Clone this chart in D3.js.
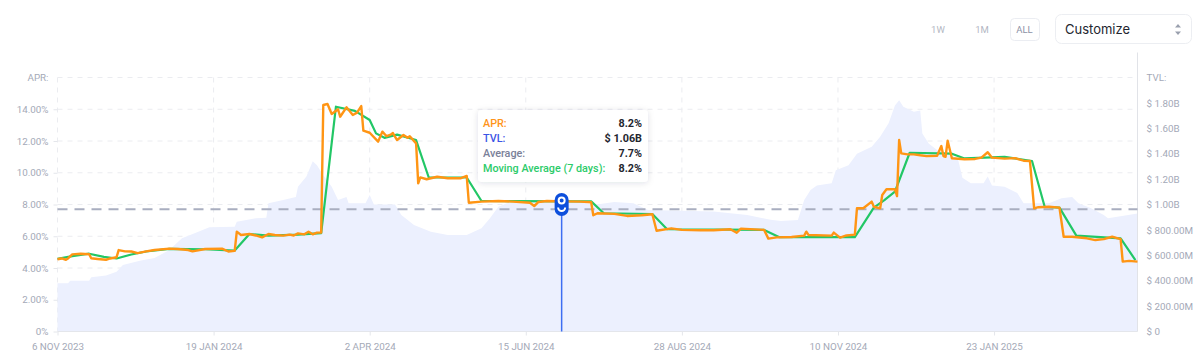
<!DOCTYPE html>
<html>
<head>
<meta charset="utf-8">
<script src="https://cdn.jsdelivr.net/npm/d3@7"></script>
<style>
  html, body { margin: 0; padding: 0; background: #ffffff; }
  svg { display: block; font-family: Roboto, "Liberation Sans", sans-serif; }
</style>
</head>
<body>
<svg id="chart" width="1201" height="361"></svg>
<script>
// ---- Data (days counted from 6 Nov 2023) ----
const startDate = "2023-11-06";
const endDate = "2025-04-01";

const aprDays = [0,2,4,5,7,11,15,16,19,23,25,28,29,32,35,38,42,46,53,57,62,64,70,78,81,84,85,87,91,94,97,100,103,107,110,112,114,117,119,121,123,125,126,128,130,133,134,137,140,142,144,145,148,152,154,156,158,159,161,164,166,167,170,171,172,175,180,185,191,194,195,201,209,216,224,226,228,232,240,248,253,254,256,264,270,277,282,284,291,296,305,311,319,322,324,335,337,341,348,354,355,356,367,368,371,374,378,379,382,386,387,390,391,393,397,398,399,400,403,406,409,412,417,419,420,421,422,424,430,435,438,441,443,449,454,458,461,463,465,470,475,477,481,488,492,496,500,504,505,508,512];
const aprValues = [4.55,4.6,4.52,4.6,4.86,4.9,4.87,4.61,4.57,4.52,4.6,4.68,5.13,5.05,5.04,4.94,5.05,5.13,5.22,5.2,5.13,5.05,5.2,5.22,5.04,5.08,6.29,6.08,6.14,6.05,5.93,6.14,6.08,6.04,6.1,6.05,6.18,6.12,6.29,6.12,6.23,6.23,14.27,14.33,13.7,14.0,13.53,14.12,13.64,13.79,14.2,12.65,12.52,11.96,12.59,12.3,12.4,12.5,12.06,12.38,12.2,12.3,11.85,9.33,9.71,9.59,9.75,9.65,9.65,9.8,8.11,8.18,8.22,8.18,8.11,7.9,8.16,8.22,8.2,8.18,8.14,7.32,7.45,7.41,7.28,7.32,7.39,6.35,6.5,6.4,6.38,6.38,6.44,6.22,6.48,6.4,5.85,5.93,5.95,6.04,6.29,6.08,6.04,6.23,5.91,6.05,6.1,7.76,7.76,8.18,7.86,7.76,8.6,8.96,8.96,8.53,12.06,11.22,11.16,11.16,11.1,11.05,11.07,11.68,11.05,11.0,12.02,10.91,10.85,10.87,10.95,11.29,10.95,10.89,10.92,10.76,10.74,7.76,7.83,7.86,7.8,5.97,5.97,5.87,5.76,5.82,5.97,5.82,4.4,4.45,4.4];

const maDays = [0,7,15,22,28,35,42,53,70,84,91,100,114,125,132,141,148,151,155,161,170,176,194,201,253,259,282,289,335,342,378,387,392,397,404,424,430,449,462,468,475,483,504,511];
const maValues = [4.57,4.75,4.9,4.7,4.6,4.85,5.04,5.2,5.18,5.1,6.14,6.04,6.1,6.2,14.16,13.9,13.32,12.48,12.2,12.4,12.06,9.7,9.7,8.22,8.2,7.45,7.4,6.44,6.4,5.95,5.95,7.8,8.28,8.81,11.26,11.2,10.9,11.0,10.74,7.86,7.8,6.04,5.87,4.5];

// TVL in millions of dollars
const tvlDays = [0,5,6,15,16,23,28,31,39,46,53,59,65,72,84,85,94,99,100,107,113,114,118,121,123,126,130,133,137,138,146,148,150,153,160,163,169,177,185,194,201,205,209,213,223,248,254,264,273,280,296,311,327,338,343,351,354,357,360,367,369,375,379,386,390,394,397,399,401,406,409,410,413,417,424,427,429,433,439,441,443,449,455,458,470,476,481,484,490,496,498,512];
const tvlValues = [380,380,400,400,427,440,471,524,557,578,642,734,773,820,825,865,891,895,1010,1035,1060,1140,1220,1340,1310,1230,1140,1035,1060,1010,1010,1075,1000,1000,1000,917,839,786,760,760,813,891,983,1010,1020,1020,996,1020,1010,957,950,945,917,880,870,878,1035,1114,1150,1167,1270,1310,1400,1455,1534,1640,1780,1820,1770,1730,1740,1560,1480,1430,1390,1350,1210,1167,1167,1220,1150,1140,1090,1010,1010,1050,1060,1010,970,917,891,930];

const averageApr = 7.7;

const aprTicks = [0,2,4,6,8,10,12,14];
const aprTickLabels = ["0%","2.00%","4.00%","6.00%","8.00%","10.00%","12.00%","14.00%"];
const tvlTicks = [0,200,400,600,800,1000,1200,1400,1600,1800];
const tvlTickLabels = ["$ 0","$ 200.00M","$ 400.00M","$ 600.00M","$ 800.00M","$ 1.00B","$ 1.20B","$ 1.40B","$ 1.60B","$ 1.80B"];
const xTickDates = ["2023-11-06","2024-01-19","2024-04-02","2024-06-15","2024-08-28","2024-11-10","2025-01-23"];
const xTickLabels = ["6 NOV 2023","19 JAN 2024","2 APR 2024","15 JUN 2024","28 AUG 2024","10 NOV 2024","23 JAN 2025"];

const tooltipDate = "2024-07-02";
const tooltipRows = [
  {label: "APR:", value: "8.2%", color: "#ff9419"},
  {label: "TVL:", value: "$ 1.06B", color: "#3b55e6"},
  {label: "Average:", value: "7.7%", color: "#7a8199"},
  {label: "Moving Average (7 days):", value: "8.2%", color: "#2ccb6a"}
];
const rangeButtons = ["1W","1M","ALL"];

// ---- Drawing ----
const parse = d3.utcParse("%Y-%m-%d");
const t0 = parse(startDate);
const dayDate = d => d3.utcDay.offset(t0, d);

const svg = d3.select("#chart");
const L = 57.5, R = 1137.5, T = 77.5, B = 331.5;
const axisFont = 9.8, axisColor = "#a4a9b7";

const x = d3.scaleUtc().domain([t0, parse(endDate)]).range([L, R]);
const yL = d3.scaleLinear().domain([0, 16]).range([B, T]);
const yR = d3.scaleLinear().domain([0, 2000]).range([B, T]);

const defs = svg.append("defs");
const f = defs.append("filter").attr("id", "shadow").attr("x", "-20%").attr("y", "-30%").attr("width", "140%").attr("height", "160%");
f.append("feDropShadow").attr("dx", 0).attr("dy", 1).attr("stdDeviation", 3).attr("flood-color", "#1a2040").attr("flood-opacity", 0.13);

// gridlines
const grid = svg.append("g");
grid.selectAll("line.h").data(aprTicks.concat([16]).filter(v => v > 0)).join("line")
  .attr("x1", L).attr("x2", R).attr("y1", d => yL(d)).attr("y2", d => yL(d))
  .attr("stroke", "#ebecf0").attr("stroke-dasharray", "5,5");
grid.selectAll("line.v").data(xTickDates).join("line")
  .attr("x1", d => x(parse(d))).attr("x2", d => x(parse(d))).attr("y1", T).attr("y2", B)
  .attr("stroke", "#ebecf0").attr("stroke-dasharray", "5,5");

// TVL area
const tvlData = tvlDays.map((d, i) => ({date: dayDate(d), v: tvlValues[i]}));
svg.append("path").datum(tvlData)
  .attr("d", d3.area().x(d => x(d.date)).y0(B).y1(d => yR(d.v)))
  .attr("fill", "#ecf0fe");

// baseline and right axis line
svg.append("line").attr("x1", L).attr("x2", R).attr("y1", B).attr("y2", B).attr("stroke", "#e4e6eb");
svg.append("line").attr("x1", R).attr("x2", R).attr("y1", T - 25).attr("y2", B).attr("stroke", "#e1e3e8");

// average line
svg.append("line").attr("x1", L).attr("x2", R).attr("y1", yL(averageApr)).attr("y2", yL(averageApr))
  .attr("stroke", "#a9aec0").attr("stroke-width", 2).attr("stroke-dasharray", "10,7");

// Moving average
const maData = maDays.map((d, i) => ({date: dayDate(d), v: maValues[i]}));
svg.append("path").datum(maData)
  .attr("d", d3.line().x(d => x(d.date)).y(d => yL(d.v)))
  .attr("fill", "none").attr("stroke", "#22c766").attr("stroke-width", 2.2).attr("stroke-linejoin", "round");

// APR
const aprData = aprDays.map((d, i) => ({date: dayDate(d), v: aprValues[i]}));
svg.append("path").datum(aprData)
  .attr("d", d3.line().x(d => x(d.date)).y(d => yL(d.v)))
  .attr("fill", "none").attr("stroke", "#ff9514").attr("stroke-width", 2.4).attr("stroke-linejoin", "round");

// Left axis
const leftAxis = svg.append("g").attr("transform", `translate(${L},0)`)
  .call(d3.axisLeft(yL).tickValues(aprTicks).tickFormat((d, i) => aprTickLabels[i]).tickSize(4).tickPadding(5));
leftAxis.select(".domain").remove();
leftAxis.selectAll("line").attr("stroke", "#e4e6eb");
leftAxis.selectAll("text").attr("fill", axisColor).attr("font-size", axisFont).attr("font-family", "Roboto, sans-serif");
svg.append("text").attr("x", L - 9).attr("y", T).attr("dy", "0.32em").attr("text-anchor", "end")
  .attr("fill", axisColor).attr("font-size", axisFont).text("APR:");

// Right axis
const rightAxis = svg.append("g").attr("transform", `translate(${R},0)`)
  .call(d3.axisRight(yR).tickValues(tvlTicks).tickFormat((d, i) => tvlTickLabels[i]).tickSize(0).tickPadding(9));
rightAxis.select(".domain").remove();
rightAxis.selectAll("text").attr("fill", axisColor).attr("font-size", axisFont).attr("font-family", "Roboto, sans-serif");
svg.append("text").attr("x", R + 9).attr("y", T).attr("dy", "0.32em")
  .attr("fill", axisColor).attr("font-size", axisFont).text("TVL:");

// Bottom axis
const bottomAxis = svg.append("g").attr("transform", `translate(0,${B})`)
  .call(d3.axisBottom(x).tickValues(xTickDates.map(parse)).tickFormat((d, i) => xTickLabels[i]).tickSize(4).tickPadding(8));
bottomAxis.select(".domain").remove();
bottomAxis.selectAll("line").attr("stroke", "#e4e6eb");
bottomAxis.selectAll("text").attr("fill", axisColor).attr("font-size", axisFont).attr("font-family", "Roboto, sans-serif");

// Hover marker
const hx = x(parse(tooltipDate));
svg.append("line").attr("x1", hx).attr("x2", hx).attr("y1", 214).attr("y2", B)
  .attr("stroke", "#3d6ef2").attr("stroke-width", 1.5);
svg.append("rect").attr("x", hx - 7).attr("y", 193).attr("width", 14).attr("height", 23).attr("rx", 7)
  .attr("fill", "#0d4fdc");
svg.append("circle").attr("cx", hx).attr("cy", 200.5).attr("r", 3).attr("fill", "none").attr("stroke", "#fff").attr("stroke-width", 2);
svg.append("path").attr("d", `M${hx - 3.5},${207.5} A3.5,3.5 0 0 0 ${hx + 3.5},${207.5}`)
  .attr("fill", "none").attr("stroke", "#fff").attr("stroke-width", 2);

// Tooltip
const tip = svg.append("g").attr("transform", "translate(478,110)");
tip.append("rect").attr("width", 170).attr("height", 72).attr("rx", 4).attr("fill", "#fff").attr("filter", "url(#shadow)");
tip.selectAll("text.l").data(tooltipRows).join("text")
  .attr("x", 5).attr("y", (d, i) => 13.5 + i * 15).attr("dy", "0.35em")
  .attr("fill", d => d.color).attr("font-size", 10.8).attr("font-weight", 500).text(d => d.label);
tip.selectAll("text.v").data(tooltipRows).join("text")
  .attr("x", 164).attr("y", (d, i) => 13.5 + i * 15).attr("dy", "0.35em").attr("text-anchor", "end")
  .attr("fill", "#23262f").attr("font-size", 10.8).attr("font-weight", 700).text(d => d.value);

// Top controls
const btnX = [938, 982, 1024.5];
svg.append("rect").attr("x", 1010.5).attr("y", 18.5).attr("width", 29).attr("height", 22).attr("rx", 4)
  .attr("fill", "#fff").attr("stroke", "#ebedf2");
svg.selectAll("text.btn").data(rangeButtons).join("text")
  .attr("x", (d, i) => btnX[i]).attr("y", 29.5).attr("dy", "0.35em").attr("text-anchor", "middle")
  .attr("font-size", 9.5).attr("fill", (d, i) => i === 2 ? "#8c92a6" : "#b3b7c3").text(d => d);
svg.append("rect").attr("x", 1055.5).attr("y", 14.5).attr("width", 136).attr("height", 29).attr("rx", 6)
  .attr("fill", "#fff").attr("stroke", "#eceef2");
svg.append("text").attr("x", 1065).attr("y", 29.5).attr("dy", "0.35em").attr("font-size", 13)
  .attr("font-family", "Inter, sans-serif").attr("fill", "#23262f").text("Customize");
svg.append("path").attr("d", "M1175,27.5 L1178,24 L1181,27.5 Z M1175,31.5 L1178,35 L1181,31.5 Z").attr("fill", "#9aa0ae");
</script>
</body>
</html>
